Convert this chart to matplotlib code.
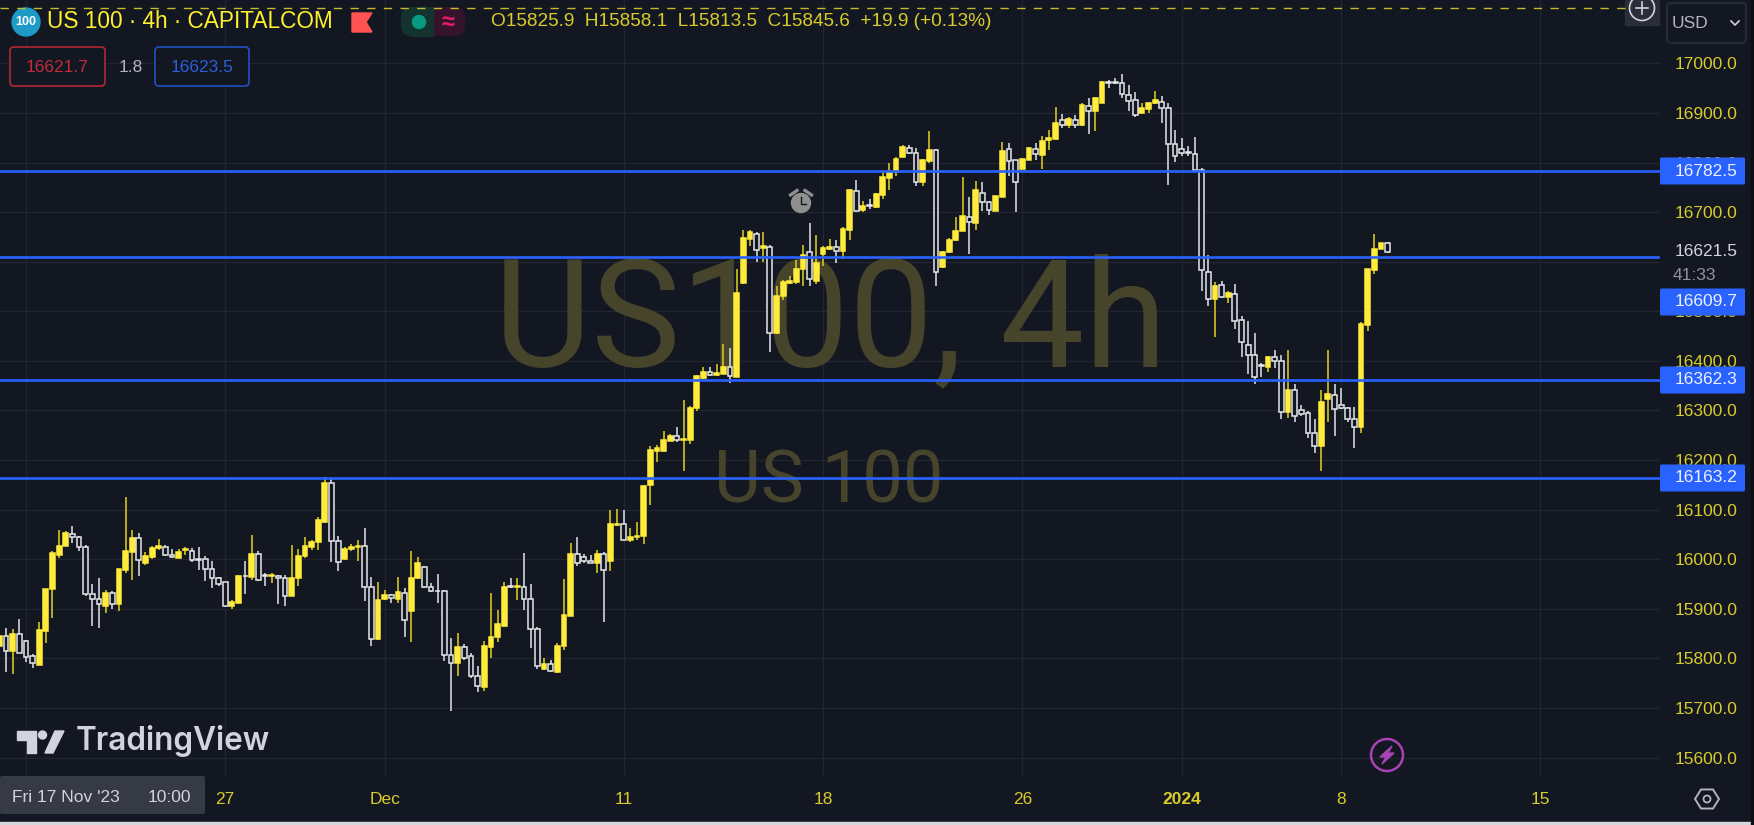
"""
US 100 4h candlestick chart, TradingView dark layout
"""
import matplotlib
matplotlib.use('Agg')
import matplotlib.pyplot as plt
from matplotlib.patches import Circle, FancyBboxPatch, Polygon, Rectangle
import numpy as np

opens = [
    15825, 15845, 15815, 15849, 15835, 15804, 15786, 15856, 15939, 16009,
    16026, 16051, 16044, 16024, 15930, 15920, 15905, 15932, 15910, 15979,
    16014, 16042, 15992, 16004, 16022, 16024, 16008, 16003, 16018, 16017,
    16000, 16000, 15980, 15962, 15954, 15905, 15912, 15967, 15964, 16011,
    15969, 15967, 15967, 15962, 15925, 15962, 16007, 16024, 16034, 16076,
    16153, 16037, 16000, 16020, 16024, 16027, 15944, 15840, 15920, 15928,
    15920, 15932, 15896, 15962, 15985, 15944, 15936, 15935, 15806, 15791,
    15822, 15804, 15765, 15742, 15822, 15844, 15866, 15945, 15943, 15943,
    15920, 15859, 15779, 15789, 15772, 15824, 15886, 16010, 16005, 15997,
    15993, 16010, 15996, 16069, 16070, 16039, 16045, 16047, 16149, 16218,
    16218, 16238, 16248, 16240, 16241, 16304, 16365, 16377, 16371, 16373,
    16387, 16368, 16557, 16646, 16656, 16627, 16629, 16457, 16530, 16557,
    16559, 16586, 16620, 16562, 16616, 16626, 16629, 16621, 16665, 16743,
    16704, 16715, 16710, 16735, 16769, 16781, 16812, 16830, 16820, 16760,
    16804, 16826, 16589, 16619, 16643, 16663, 16691, 16678, 16738, 16720,
    16703, 16731, 16827, 16805, 16787, 16806, 16827, 16816, 16846, 16848,
    16886, 16876, 16886, 16875, 16915, 16904, 16920, 16963, 16963, 16960,
    16936, 16926, 16900, 16909, 16920, 16923, 16910, 16838, 16827, 16821,
    16817, 16785, 16579, 16525, 16553, 16529, 16535, 16482, 16433, 16412,
    16391, 16388, 16407, 16399, 16297, 16342, 16300, 16294, 16254, 16228,
    16324, 16332, 16311, 16305, 16283, 16267, 16473, 16584, 16625, 16638,
]
highs = [
    15855, 15861, 15859, 15880, 15838, 15808, 15873, 15939, 16016, 16059,
    16056, 16066, 16046, 16029, 15949, 15963, 15937, 15935, 15981, 16125,
    16059, 16052, 16014, 16027, 16040, 16029, 16020, 16020, 16024, 16022,
    16024, 16007, 15997, 15964, 15955, 15918, 15969, 15997, 16048, 16017,
    15973, 15972, 15969, 15969, 16029, 16021, 16044, 16039, 16085, 16166,
    16163, 16047, 16024, 16031, 16039, 16062, 15965, 15955, 15937, 15930,
    15965, 15942, 16017, 16004, 15987, 15952, 15971, 15938, 15841, 15852,
    15829, 15811, 15784, 15836, 15931, 15898, 15955, 15963, 15963, 16012,
    15949, 15864, 15801, 15797, 15831, 15960, 16032, 16045, 16010, 16008,
    16018, 16015, 16099, 16102, 16099, 16062, 16075, 16149, 16228, 16230,
    16258, 16253, 16266, 16322, 16310, 16372, 16388, 16388, 16394, 16435,
    16427, 16585, 16664, 16664, 16660, 16660, 16633, 16552, 16564, 16572,
    16603, 16633, 16678, 16654, 16631, 16646, 16643, 16670, 16747, 16765,
    16723, 16727, 16738, 16782, 16800, 16812, 16835, 16836, 16829, 16807,
    16863, 16828, 16621, 16648, 16690, 16770, 16731, 16763, 16760, 16723,
    16733, 16842, 16840, 16806, 16809, 16831, 16840, 16854, 16865, 16912,
    16898, 16893, 16896, 16921, 16930, 16932, 16965, 16967, 16970, 16978,
    16957, 16942, 16921, 16923, 16945, 16935, 16921, 16865, 16849, 16834,
    16852, 16789, 16614, 16560, 16562, 16542, 16555, 16490, 16480, 16456,
    16396, 16409, 16423, 16411, 16423, 16354, 16312, 16299, 16282, 16341,
    16421, 16354, 16346, 16307, 16307, 16478, 16586, 16655, 16638, 16640,
]
lows = [
    15820, 15773, 15768, 15810, 15792, 15781, 15786, 15830, 15882, 16002,
    16026, 16032, 16016, 15925, 15866, 15861, 15892, 15900, 15896, 15973,
    15959, 15967, 15989, 16000, 16019, 16006, 16002, 16002, 16009, 15995,
    15979, 15957, 15941, 15945, 15903, 15900, 15912, 15930, 15959, 15957,
    15945, 15951, 15910, 15905, 15925, 15945, 16002, 16019, 16018, 16073,
    15995, 15977, 15999, 16016, 15997, 15915, 15825, 15838, 15917, 15912,
    15912, 15843, 15833, 15960, 15942, 15933, 15912, 15794, 15693, 15765,
    15797, 15760, 15732, 15734, 15801, 15832, 15864, 15941, 15918, 15897,
    15821, 15779, 15776, 15772, 15771, 15816, 15886, 15987, 15992, 15992,
    15972, 15873, 15976, 16067, 16037, 16035, 16039, 16031, 16109, 16197,
    16216, 16238, 16236, 16177, 16233, 16298, 16363, 16369, 16369, 16373,
    16355, 16368, 16556, 16631, 16599, 16599, 16417, 16455, 16522, 16556,
    16556, 16551, 16551, 16556, 16591, 16623, 16597, 16606, 16644, 16700,
    16700, 16706, 16708, 16727, 16745, 16773, 16812, 16817, 16752, 16752,
    16800, 16551, 16588, 16617, 16641, 16663, 16616, 16664, 16703, 16695,
    16702, 16731, 16772, 16701, 16786, 16805, 16806, 16787, 16826, 16846,
    16870, 16870, 16870, 16874, 16858, 16864, 16920, 16950, 16959, 16930,
    16905, 16891, 16898, 16901, 16919, 16880, 16754, 16801, 16813, 16813,
    16783, 16541, 16511, 16449, 16527, 16516, 16464, 16408, 16374, 16354,
    16368, 16377, 16386, 16282, 16284, 16277, 16289, 16245, 16215, 16178,
    16277, 16249, 16302, 16277, 16225, 16255, 16460, 16575, 16625, 16617,
]
closes = [
    15845, 15815, 15849, 15810, 15802, 15790, 15857, 15939, 16012, 16027,
    16052, 16044, 16024, 15930, 15920, 15910, 15932, 15910, 15981, 16017,
    16042, 15999, 16007, 16022, 16026, 16008, 16004, 16014, 16020, 15999,
    15999, 15980, 15962, 15950, 15905, 15913, 15967, 15966, 16011, 15959,
    15967, 15969, 15962, 15925, 15962, 16007, 16027, 16034, 16079, 16153,
    16037, 15995, 16020, 16024, 16027, 15944, 15840, 15918, 15928, 15922,
    15934, 15877, 15962, 15993, 15944, 15935, 15935, 15806, 15791, 15823,
    15801, 15764, 15745, 15825, 15843, 15869, 15943, 15943, 15945, 15920,
    15859, 15784, 15789, 15774, 15825, 15887, 16010, 15993, 15997, 15993,
    16010, 15978, 16070, 16072, 16039, 16045, 16047, 16148, 16220, 16224,
    16240, 16248, 16240, 16243, 16305, 16370, 16378, 16371, 16375, 16388,
    16369, 16536, 16648, 16660, 16624, 16631, 16457, 16530, 16559, 16561,
    16586, 16613, 16566, 16597, 16628, 16629, 16621, 16666, 16745, 16703,
    16713, 16713, 16737, 16770, 16782, 16808, 16832, 16820, 16760, 16805,
    16826, 16580, 16619, 16644, 16663, 16692, 16680, 16745, 16720, 16704,
    16733, 16824, 16804, 16760, 16807, 16829, 16817, 16843, 16849, 16880,
    16876, 16888, 16876, 16917, 16905, 16930, 16963, 16961, 16960, 16938,
    16925, 16896, 16911, 16921, 16927, 16910, 16838, 16813, 16819, 16819,
    16785, 16584, 16525, 16551, 16528, 16537, 16481, 16439, 16411, 16368,
    16389, 16407, 16399, 16297, 16342, 16289, 16292, 16255, 16228, 16317,
    16333, 16303, 16305, 16282, 16267, 16474, 16585, 16626, 16638, 16620,
]

levels = [16782.5, 16609.7, 16362.3, 16163.2]
price_ticks = list(range(15600, 17001, 100))
time_ticks = [4, 34, 58, 94, 124, 154, 178, 202, 232]
time_labels = ['', '27', 'Dec', '11', '18', '26', '2024', '8', '15']

BG = '#131722'
GRID = '#212530'
YELLOW = '#ffeb3b'
AXIS_YELLOW = '#d9cc2a'
BLUE = '#2962ff'
FONT = ['Liberation Sans', 'DejaVu Sans']

plt.rcParams['font.family'] = FONT

W, H, PLOT_W, PLOT_H = 1754, 825, 1660, 775
fig = plt.figure(figsize=(W / 100, H / 100), dpi=100, facecolor=BG)

ax = fig.add_axes([0, 1 - PLOT_H / H, PLOT_W / W, PLOT_H / H], facecolor=BG)
ax.set_xlim(0.1, 250)
ax.set_ylim(15564.7, 17128)
for s in ax.spines.values():
    s.set_visible(False)

ax.yaxis.tick_right()
ax.set_yticks(price_ticks)
ax.set_yticklabels([f'{p:.1f}' for p in price_ticks])
ax.set_xticks(time_ticks)
ax.set_xticklabels(time_labels)
ax.tick_params(axis='y', length=0, pad=10.5, labelsize=12.5, labelcolor=AXIS_YELLOW)
ax.tick_params(axis='x', length=0, pad=12, labelsize=12.5, labelcolor=AXIS_YELLOW)
ax.get_xticklabels()[6].set_fontweight('bold')
ax.grid(True, color=GRID, linewidth=1)
ax.set_axisbelow(True)

# watermarks
ax.text(830 / PLOT_W, 1 - 366 / PLOT_H, 'US100, 4h', transform=ax.transAxes,
        fontsize=108, family=['Roboto', 'DejaVu Sans'], color='#46442a',
        ha='center', va='baseline', zorder=1)
ax.text(829 / PLOT_W, 1 - 502 / PLOT_H, 'US 100', transform=ax.transAxes,
        fontsize=52, family=['Roboto', 'DejaVu Sans'], color='#46442a',
        ha='center', va='baseline', zorder=1)

# candles
o = np.array(opens)
c = np.array(closes)
hi = np.array(highs)
lo = np.array(lows)
idx = np.arange(len(o))
up = c >= o

ax.vlines(idx[up], lo[up], hi[up], color='#d4c41e', linewidth=1.2, zorder=3)
ax.vlines(idx[~up], lo[~up], hi[~up], color='#d1d4dc', linewidth=1.2, zorder=3)
ax.bar(idx[up], (c - o)[up], bottom=o[up], width=0.72, color=YELLOW,
       edgecolor=YELLOW, linewidth=1.1, zorder=4)
ax.bar(idx[~up], (c - o)[~up], bottom=o[~up], width=0.72, color=BG,
       edgecolor='#e6e7ea', linewidth=1.1, zorder=4)

for lv in levels:
    ax.axhline(lv, color=BLUE, linewidth=1.9, zorder=5)

# everything around the plot, drawn in pixel coordinates
ui = fig.add_axes([0, 0, 1, 1], zorder=10)
ui.set_xlim(0, W)
ui.set_ylim(H, 0)
ui.axis('off')


def label(x, y, s, color, size=12.5, ha='left', **kw):
    ui.text(x, y, s, color=color, fontsize=size, ha=ha, va='center', **kw)


def rbox(x0, y0, x1, y1, face, edge='none', lw=1.2, r=4):
    ui.add_patch(FancyBboxPatch((x0 + r, y0 + r), x1 - x0 - 2 * r, y1 - y0 - 2 * r,
                                boxstyle=f'round,pad={r},rounding_size={r}',
                                facecolor=face, edgecolor=edge, linewidth=lw))


# top dashed line and plus button
ui.plot([0, 1625], [8, 8], color='#c8b92c', linewidth=1, dashes=(6, 6))
ui.add_patch(Rectangle((1625, 0), 34, 25, color='#2a2e39'))
ui.add_patch(Circle((1642, 8), 12.5, facecolor='none', edgecolor='#d1d4dc', linewidth=1.2))
ui.plot([1636, 1648], [8, 8], color='#d1d4dc', linewidth=1.2)
ui.plot([1642, 1642], [2, 14], color='#d1d4dc', linewidth=1.2)

# header
ui.add_patch(Circle((26, 22), 14, color='#1e9ac6'))
label(26, 22, '100', 'white', size=9, ha='center', fontweight='bold')
label(47, 22, 'US 100 \u00b7 4h \u00b7 CAPITALCOM', '#fff02e', size=16.3)
ui.add_patch(Polygon([(352, 13), (372, 13), (366, 22), (372, 32), (352, 32)], color='#ff5252'))
rbox(401, 7, 445, 36, '#14332f', r=10)
rbox(420, 7, 465, 36, '#35142b', r=10)
ui.add_patch(Rectangle((411, 7), 22, 29, color='#14332f'))
ui.add_patch(Circle((419, 22), 6.5, color='#089981'))
label(448, 22, '\u2248', '#e91e63', size=17, ha='center', fontweight='bold')
label(491, 22, 'O15825.9  H15858.1  L15813.5  C15845.6  +19.9 (+0.13%)', AXIS_YELLOW, size=13.7)

rbox(10, 47, 105, 86, BG, edge='#b22833')
label(57.5, 67, '16621.7', '#c22c3a', ha='center')
label(131, 67, '1.8', '#b2b5be', ha='center')
rbox(155, 47, 249, 86, BG, edge='#2250c0')
label(202, 67, '16623.5', '#2b5fd9', ha='center')

# USD button
rbox(1667, 3, 1746, 43, BG, edge='#2a2e39')
label(1672, 24, 'USD', '#b2b5be')
ui.plot([1731, 1735, 1739], [21, 25, 21], color='#d1d4dc', linewidth=1.2)

# alarm icon
ui.add_patch(Circle((801, 203), 9.5, color='#8f8f8f'))
ui.plot([790.5, 797], [195, 190.5], color='#8f8f8f', linewidth=2.4)
ui.plot([805, 811.5], [190.5, 195], color='#8f8f8f', linewidth=2.4)
ui.plot([801, 801, 806], [197, 204, 204], color=BG, linewidth=1)

# price labels, the 16609.7 one is pushed down below the last price
ui.add_patch(Rectangle((1660, 240), 85, 48, color=BG))
label(1675, 252, '16621.5', '#d1d4dc')
label(1673, 275, '41:33', '#8f929b')
for y, s in zip([171, 302, 380, 478], ['16782.5', '16609.7', '16362.3', '16163.2']):
    rbox(1660, y - 13.5, 1745, y + 13.5, BLUE, r=1.5)
    label(1675, y, s, '#eef1fb')

# TradingView logo
ui.add_patch(Polygon([(17, 731), (36, 731), (36, 753), (27, 753), (27, 740), (17, 740)], color='#d1d4dc'))
ui.add_patch(Circle((42.5, 735), 4, color='#d1d4dc'))
ui.add_patch(Polygon([(45, 753), (55, 731), (64, 731), (53, 753)], color='#d1d4dc'))
label(76, 741, 'TradingView', '#d1d4dc', size=22.7, family=['Inter', 'DejaVu Sans'], fontweight='semibold')

# crosshair date box
rbox(0, 776, 205, 814, '#363a45', r=2)
label(12, 798, "Fri 17 Nov '23", '#d1d4dc')
label(148, 798, '10:00', '#d1d4dc')

# lightning icon
ui.add_patch(Circle((1387, 755), 16, facecolor='none', edgecolor='#a843b5', linewidth=1.8))
ui.add_patch(Polygon([(1392, 746), (1380, 757), (1386, 757), (1382, 764), (1394, 753), (1388, 753)], color='#a843b5'))

# settings icon
ang = np.deg2rad(np.arange(0, 360, 60))
ui.add_patch(Polygon(np.column_stack([1707 + 12 * np.cos(ang), 799 + 11 * np.sin(ang)]),
                     facecolor='none', edgecolor='#b2b5be', linewidth=1.4))
ui.add_patch(Circle((1707, 799), 3.5, facecolor='none', edgecolor='#b2b5be', linewidth=1.3))

# window edges
ui.add_patch(Rectangle((0, 821.5), W, 3.5, color='#d6d7da'))
ui.add_patch(Rectangle((1751, 0), 3, H, color='#0c0e14'))

fig.savefig('out.png', dpi=100, facecolor=BG)
